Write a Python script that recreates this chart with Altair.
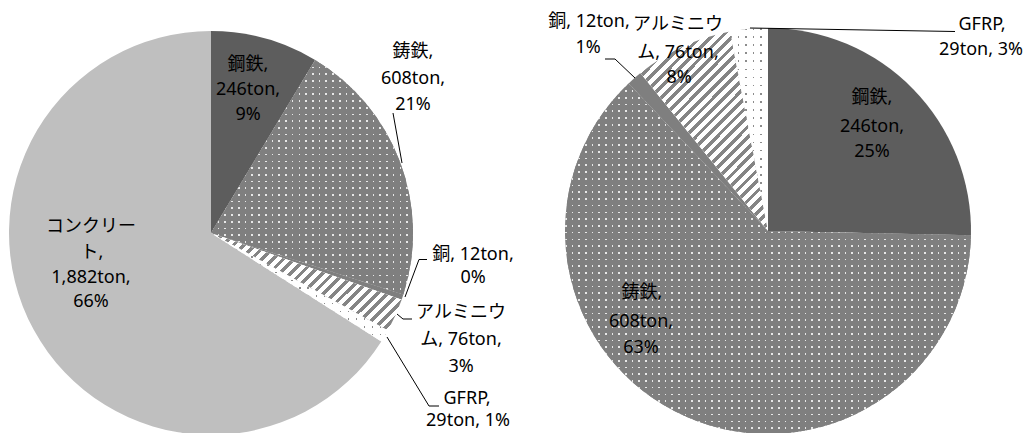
import altair as alt
import pandas as pd

# ---------------- data ----------------
pie_ids = ["left"] * 6 + ["right"] * 5
categories = ["鋼鉄", "鋳鉄", "銅", "アルミニウム", "GFRP", "コンクリート",
              "鋼鉄", "鋳鉄", "銅", "アルミニウム", "GFRP"]
tons = [246, 608, 12, 76, 29, 1882,
        246, 608, 12, 76, 29]
slice_order = [0, 1, 2, 3, 4, 5, 0, 1, 2, 3, 4]

# label lines (page pixel positions of line centres)
label_text = ["鋼鉄,", "246ton,", "9%",
              "鋳鉄,", "608ton,", "21%",
              "銅, 12ton,", "0%",
              "アルミニウ", "ム, 76ton,", "3%",
              "GFRP,", "29ton, 1%",
              "コンクリー", "ト,", "1,882ton,", "66%",
              "鋼鉄,", "246ton,", "25%",
              "鋳鉄,", "608ton,", "63%",
              "銅, 12ton,", "1%",
              "アルミニウ", "ム, 76ton,", "8%",
              "GFRP,", "29ton, 3%"]
label_x = [248, 248, 248,
           413, 413, 413,
           473, 473,
           461, 461, 461,
           467, 468,
           91, 92, 91, 91,
           872, 872, 872,
           642, 641, 641,
           589, 588,
           678, 678, 679,
           982, 981]
label_y = [65, 90, 115,
           52, 79, 105,
           255, 278,
           313, 340, 367,
           399, 421,
           227, 253, 278, 302,
           98, 127, 152,
           293, 322, 348,
           22, 48,
           25, 53, 78,
           25, 50]

# leader lines (page pixel positions)
leader_id = ["a", "a", "b", "b", "b", "c", "c", "c", "d", "d", "d",
             "e", "e", "f", "f", "f"]
leader_seq = [0, 1, 0, 1, 2, 0, 1, 2, 0, 1, 2, 0, 1, 0, 1, 2]
leader_x = [393, 402, 405, 419, 427, 397, 403, 412, 387, 429, 439,
            750, 955, 605, 615, 635]
leader_y = [113, 163, 297, 259.5, 259.5, 314, 319, 319, 337, 406, 406,
            28, 31.5, 59, 59, 78]

# ---------------- style ----------------
M = 8  # page margin
CENTER = {"left": (211, 233, 202), "right": (768, 231, 203)}
cat_domain = ["鋼鉄", "鋳鉄", "銅", "アルミニウム", "GFRP", "コンクリート"]
cat_colors = ["#5d5d5d", "#7f7f7f", "#7f7f7f", "#ffffff", "#ffffff", "#bfbfbf"]
FONT = "Noto Sans, Noto Sans CJK JP"
CLEAR = "rgba(255,255,255,0)"

df = pd.DataFrame({"pie": pie_ids, "cat": categories, "tons": tons, "ord": slice_order})
labels = pd.DataFrame({"t": label_text,
                       "x": [v - M for v in label_x],
                       "y": [v - M for v in label_y]})
leaders = pd.DataFrame({"id": leader_id, "seq": leader_seq,
                        "x": [v - M for v in leader_x],
                        "y": [v - M for v in leader_y]})


def bands(n, duty, c_on, c_off):
    stops = []
    for i in range(n):
        a, b, c = i / n, (i + duty) / n, (i + 1) / n
        stops += [alt.GradientStop(offset=a, color=c_on),
                  alt.GradientStop(offset=b, color=c_on),
                  alt.GradientStop(offset=b, color=c_off),
                  alt.GradientStop(offset=c, color=c_off)]
    return stops


def wedges(pie):
    return (alt.Chart(df)
            .transform_window(cum="sum(tons)", groupby=["pie"],
                              sort=[alt.SortField("ord")], frame=[None, 0])
            .transform_joinaggregate(total="sum(tons)", groupby=["pie"])
            .transform_calculate(f0="(datum.cum - datum.tons) / datum.total",
                                 f1="datum.cum / datum.total")
            .transform_filter(alt.datum.pie == pie))


def arc_encode(ch, pie, **extra):
    cx, cy, r = CENTER[pie]
    return ch.encode(
        theta=alt.Theta("f0:Q", scale=alt.Scale(domain=[0, 1], range=[0, 6.283185307179586])),
        theta2=alt.Theta2("f1:Q"),
        x=alt.value(cx - M), y=alt.value(cy - M), **extra)


def base_layer(pie):
    r = CENTER[pie][2]
    return arc_encode(wedges(pie).mark_arc(radius=r), pie,
                      color=alt.Color("cat:N", scale=alt.Scale(domain=cat_domain, range=cat_colors),
                                      legend=None))


def pattern_layer(pie, cat, grad):
    r = CENTER[pie][2]
    return arc_encode(wedges(pie).transform_filter(alt.datum.cat == cat)
                      .mark_arc(radius=r, color=grad), pie)


def grad(x2, y2, stops):
    return alt.LinearGradient(gradient="linear", x1=0, y1=0, x2=x2, y2=y2, stops=stops)


layers = []
for pie in ["left", "right"]:
    layers.append(base_layer(pie))

# aluminium: upward diagonal stripes
layers.append(pattern_layer("left", "アルミニウム", grad(1.198, 0.615, bands(27, 0.45, "#858585", "#ffffff"))))
layers.append(pattern_layer("right", "アルミニウム", grad(0.748, 1.162, bands(31, 0.45, "#858585", "#ffffff"))))

# cast iron: white dots on grey
for pie, nx, ny in [("left", 30, 35), ("right", 61, 52)]:
    layers.append(pattern_layer(pie, "鋳鉄", grad(0, 1, bands(ny, 0.25, "#e8e8e8", CLEAR))))
    layers.append(pattern_layer(pie, "鋳鉄", grad(1, 0, bands(nx, 0.25, CLEAR, "#7f7f7f"))))

# GFRP: grey dots on white
for pie, nx, ny in [("left", 22, 14), ("right", 5, 25)]:
    layers.append(pattern_layer(pie, "GFRP", grad(0, 1, bands(ny, 0.2, "#8c8c8c", CLEAR))))
    layers.append(pattern_layer(pie, "GFRP", grad(1, 0, bands(nx, 0.2, CLEAR, "#ffffff"))))

lines = alt.Chart(leaders).mark_line(color="black", strokeWidth=1).encode(
    x=alt.X("x:Q", scale=None, axis=None),
    y=alt.Y("y:Q", scale=None, axis=None),
    detail="id:N",
    order="seq:O",
)

texts = alt.Chart(labels).mark_text(font=FONT, fontSize=18, color="black",
                                    align="center", baseline="middle").encode(
    x=alt.X("x:Q", scale=None, axis=None),
    y=alt.Y("y:Q", scale=None, axis=None),
    text="t:N",
)

chart = alt.layer(*layers, lines, texts).properties(
    width=1017, height=425, padding=0,
    autosize=alt.AutoSizeParams(type="none"),
).resolve_scale(color="independent").configure_view(stroke=None)

chart.save("out.html", embed_options={"renderer": "svg", "actions": False})
